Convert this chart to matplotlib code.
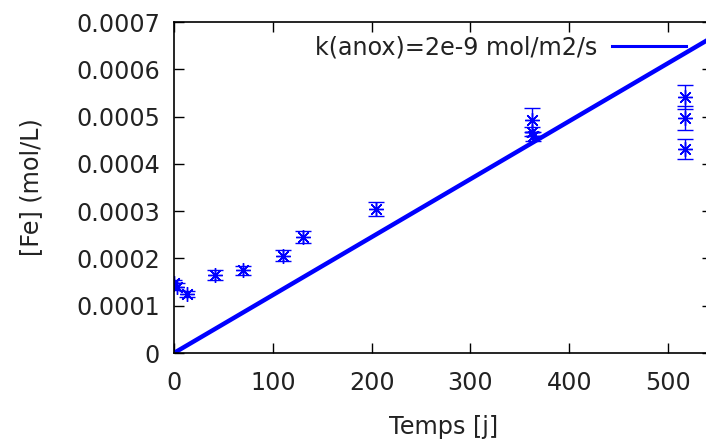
import numpy as np
import matplotlib.pyplot as plt
from matplotlib.lines import Line2D

# Mesures [Fe] en fonction du temps
temps = [0, 3, 13, 41, 70, 110, 131, 204, 362, 362, 363, 517, 517, 517]
fe = [0.000147, 0.000140, 0.000125, 0.000165, 0.000175, 0.000206, 0.000246,
      0.000305, 0.000493, 0.000468, 0.000458, 0.000541, 0.000497, 0.000431]
fe_err = [0.000007, 0.000007, 0.000006, 0.00001, 0.00001, 0.000012, 0.000013,
          0.000015, 0.000025, 0.00001, 0.00001, 0.000025, 0.000025, 0.000021]

# Modele k(anox)=2e-9 mol/m2/s
t_model = [0, 545]
fe_model = [0, 0.000668]

W, H = 706, 444
fig = plt.figure(figsize=(W / 100, H / 100), dpi=100)
x0, x1 = 174, 174 + 545 * 0.988
y0, y1 = 353, 22
ax = fig.add_axes([x0 / W, 1 - y0 / H, (x1 - x0) / W, (y0 - y1) / H])

bleu = '#0000ff'
txt = '#222222'
fs = 17.2

ax.plot(t_model, fe_model, color=bleu, lw=3.2, solid_capstyle='butt')
ax.errorbar(temps, fe, yerr=fe_err, fmt='none', ecolor=bleu, elinewidth=1,
            capsize=5.5, capthick=1)
ax.plot(temps, fe, ls='none', marker=(8, 2, 0), ms=10.5, mew=1, color=bleu)

ax.set_xlim(0, 545)
ax.set_ylim(0, 0.0007)
ax.set_xticks([0, 100, 200, 300, 400, 500])
ax.set_yticks(np.arange(0, 0.00071, 0.0001))
ax.set_yticklabels(['0', '0.0001', '0.0002', '0.0003', '0.0004', '0.0005',
                    '0.0006', '0.0007'])
ax.tick_params(direction='in', length=7, width=1, top=True, right=True,
               labelsize=fs, labelcolor=txt)
ax.tick_params(axis='x', pad=13)
ax.tick_params(axis='y', pad=10)
for s in ax.spines.values():
    s.set_linewidth(1.2)

ax.set_xlabel('Temps [j]', fontsize=fs, color=txt, labelpad=14)
ax.set_ylabel('[Fe] (mol/L)', fontsize=fs, color=txt, labelpad=24)

h = Line2D([], [], color=bleu, lw=2.2)
ax.legend([h], ['k(anox)=2e-9 mol/m2/s'], loc='center right',
          bbox_to_anchor=(686 / W, 1 - 47 / H), bbox_transform=fig.transFigure,
          frameon=False, markerfirst=False, handlelength=3.1,
          handletextpad=0.6, borderpad=0, borderaxespad=0,
          prop={'size': fs}, labelcolor=txt)

fig.savefig('out.png', dpi=100)
